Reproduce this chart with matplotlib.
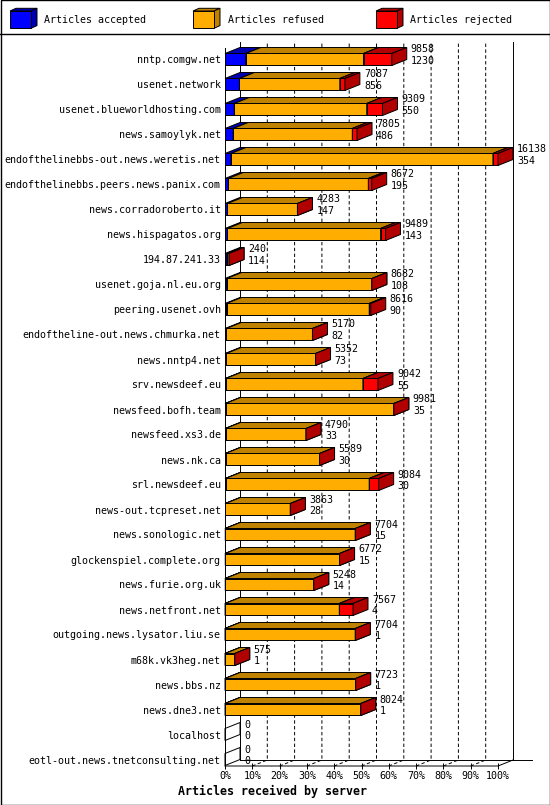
import numpy as np
import matplotlib
matplotlib.use("Agg")
import matplotlib.pyplot as plt
from matplotlib.patches import Polygon, Rectangle
from matplotlib.transforms import offset_copy

plt.rcParams['font.family'] = ['DejaVu Sans Mono']

servers = ['nntp.comgw.net', 'usenet.network', 'usenet.blueworldhosting.com',
           'news.samoylyk.net', 'endofthelinebbs-out.news.weretis.net',
           'endofthelinebbs.peers.news.panix.com', 'news.corradoroberto.it',
           'news.hispagatos.org', '194.87.241.33', 'usenet.goja.nl.eu.org',
           'peering.usenet.ovh', 'endoftheline-out.news.chmurka.net',
           'news.nntp4.net', 'srv.newsdeef.eu', 'newsfeed.bofh.team',
           'newsfeed.xs3.de', 'news.nk.ca', 'srl.newsdeef.eu',
           'news-out.tcpreset.net', 'news.sonologic.net',
           'glockenspiel.complete.org', 'news.furie.org.uk', 'news.netfront.net',
           'outgoing.news.lysator.liu.se', 'm68k.vk3heg.net', 'news.bbs.nz',
           'news.dne3.net', 'localhost', 'eotl-out.news.tnetconsulting.net']
totals = [9858, 7087, 9309, 7805, 16138, 8672, 4283, 9489, 240, 8682, 8616,
          5170, 5352, 9042, 9981, 4790, 5589, 9084, 3863, 7704, 6772, 5248,
          7567, 7704, 575, 7723, 8024, 0, 0]
accepted = [1230, 856, 550, 486, 354, 195, 147, 143, 114, 108, 90, 82, 73, 55,
            35, 33, 30, 30, 28, 15, 15, 14, 4, 1, 1, 1, 1, 0, 0]
# rejected read off the red part of each bar (estimates)
rejected = [1670, 300, 930, 280, 300, 200, 0, 290, 0, 0, 90, 0, 0, 890, 0, 0,
            0, 560, 0, 0, 0, 0, 810, 0, 0, 0, 0, 0, 0]
refused = [t - a - r for t, a, r in zip(totals, accepted, rejected)]

legend_names = ['Articles accepted', 'Articles refused', 'Articles rejected']
front_cols = ['#0000FF', '#FFAD00', '#FF0000']
dark_cols = ['#0000B0', '#BF8200', '#B00000']

W, H = 550, 805
fig = plt.figure(figsize=(W / 100, H / 100), dpi=100)
fig.patch.set_facecolor('white')

ax = fig.add_axes([225 / W, 1 - 766 / H, 273 / W, (766 - 42) / H])
ax.set_xlim(0, 100)
ax.set_ylim(28.26, -0.7)
ax.patch.set_visible(False)
for s in ax.spines.values():
    s.set_visible(False)

dx = 15 / 2.73   # depth in percent units
dy = 0.24        # depth in row units
hh = 0.24        # half bar height
floor_f = 28.26
floor_b = floor_f - dy
top_y = -0.7
lw = 0.7

# back wall, floor and grid
for p in range(10, 100, 10):
    ax.plot([p, p + dx, p + dx], [floor_f, floor_b, top_y], color='black',
            lw=lw, ls=(0, (3.5, 2.5)), zorder=1, clip_on=False)
ax.plot([dx, dx], [floor_b, top_y], color='black', lw=lw, zorder=1, clip_on=False)
ax.plot([100 + dx, 100 + dx], [floor_b, top_y], color='black', lw=lw, zorder=1, clip_on=False)
ax.plot([dx, 112.5], [floor_b, floor_b], color='black', lw=lw, zorder=1, clip_on=False)
ax.plot([0, 100, 100 + dx], [floor_f, floor_f, floor_b], color='black', lw=lw,
        zorder=1, clip_on=False)
ax.plot([0, 0], [-0.46, floor_f], color='black', lw=lw, zorder=1, clip_on=False)

maxv = max(totals)
tr = offset_copy(ax.transData, fig=fig, x=19, y=0, units='dots')


def face(pts, fc, z):
    ax.add_patch(Polygon(pts, closed=True, facecolor=fc, edgecolor='black',
                         lw=lw, zorder=z, clip_on=False, joinstyle='miter'))


for i in range(len(servers)):
    yt, yb = i - hh, i + hh
    segs = [accepted[i], refused[i], rejected[i]]
    if totals[i] == 0:
        face([(0, yt), (dx, yt - dy), (dx, yb - dy), (0, yb)], 'none', 3)
    else:
        left = 0.0
        for k, v in enumerate(segs):
            w = v / maxv * 100
            x0, x1 = left, left + w
            if w > 0:
                face([(x0, yb), (x1, yb), (x1, yt), (x0, yt)], front_cols[k], 3)
                face([(x0, yt), (x1, yt), (x1 + dx, yt - dy), (x0 + dx, yt - dy)],
                     dark_cols[k], 3)
            face([(x1, yt), (x1 + dx, yt - dy), (x1 + dx, yb - dy), (x1, yb)],
                 dark_cols[k], 3)
            left = x1
    end = totals[i] / maxv * 100
    ax.text(end, i - 0.40, str(totals[i]), transform=tr, va='center', ha='left',
            fontsize=7.2, zorder=5, clip_on=False)
    ax.text(end, i + 0.06, str(accepted[i]), transform=tr, va='center', ha='left',
            fontsize=7.2, zorder=5, clip_on=False)

ax.set_yticks(range(len(servers)))
ax.set_yticklabels(servers)
ax.tick_params(axis='y', length=0, pad=3, labelsize=7.2)
ax.set_xticks(np.arange(0, 101, 10))
ax.set_xticklabels(['%d%%' % p for p in range(0, 101, 10)])
ax.tick_params(axis='x', direction='inout', length=5, width=lw, pad=1, labelsize=7.2)

# overlay in pixel coordinates: frame, legend, title
ov = fig.add_axes([0, 0, 1, 1], zorder=10)
ov.set_xlim(0, W)
ov.set_ylim(H, 0)
ov.axis('off')
ov.patch.set_visible(False)
ov.add_patch(Rectangle((0.5, 0.5), W - 1, H - 1, fill=False, edgecolor='black', lw=1.0))
ov.plot([0, W], [34.5, 34.5], color='black', lw=1.0)

leg_x = [10, 193, 376]
for k, name in enumerate(legend_names):
    x0 = leg_x[k]
    x1 = x0 + 21
    yt, yb = 11, 28.3
    ddx, ddy = 6, 2.7
    ov.add_patch(Polygon([(x0, yt), (x1, yt), (x1 + ddx, yt - ddy), (x0 + ddx, yt - ddy)],
                         facecolor=dark_cols[k], edgecolor='black', lw=lw))
    ov.add_patch(Polygon([(x1, yt), (x1 + ddx, yt - ddy), (x1 + ddx, yb - ddy), (x1, yb)],
                         facecolor=dark_cols[k], edgecolor='black', lw=lw))
    ov.add_patch(Rectangle((x0, yt), 21, yb - yt, facecolor=front_cols[k],
                           edgecolor='black', lw=lw))
    ov.text(x0 + 34.5, 20, name, va='center', ha='left', fontsize=7.2)

ov.text(273, 791, 'Articles received by server', ha='center', va='center',
        fontsize=8.4, fontweight='bold')

fig.savefig('out.png', dpi=100)
